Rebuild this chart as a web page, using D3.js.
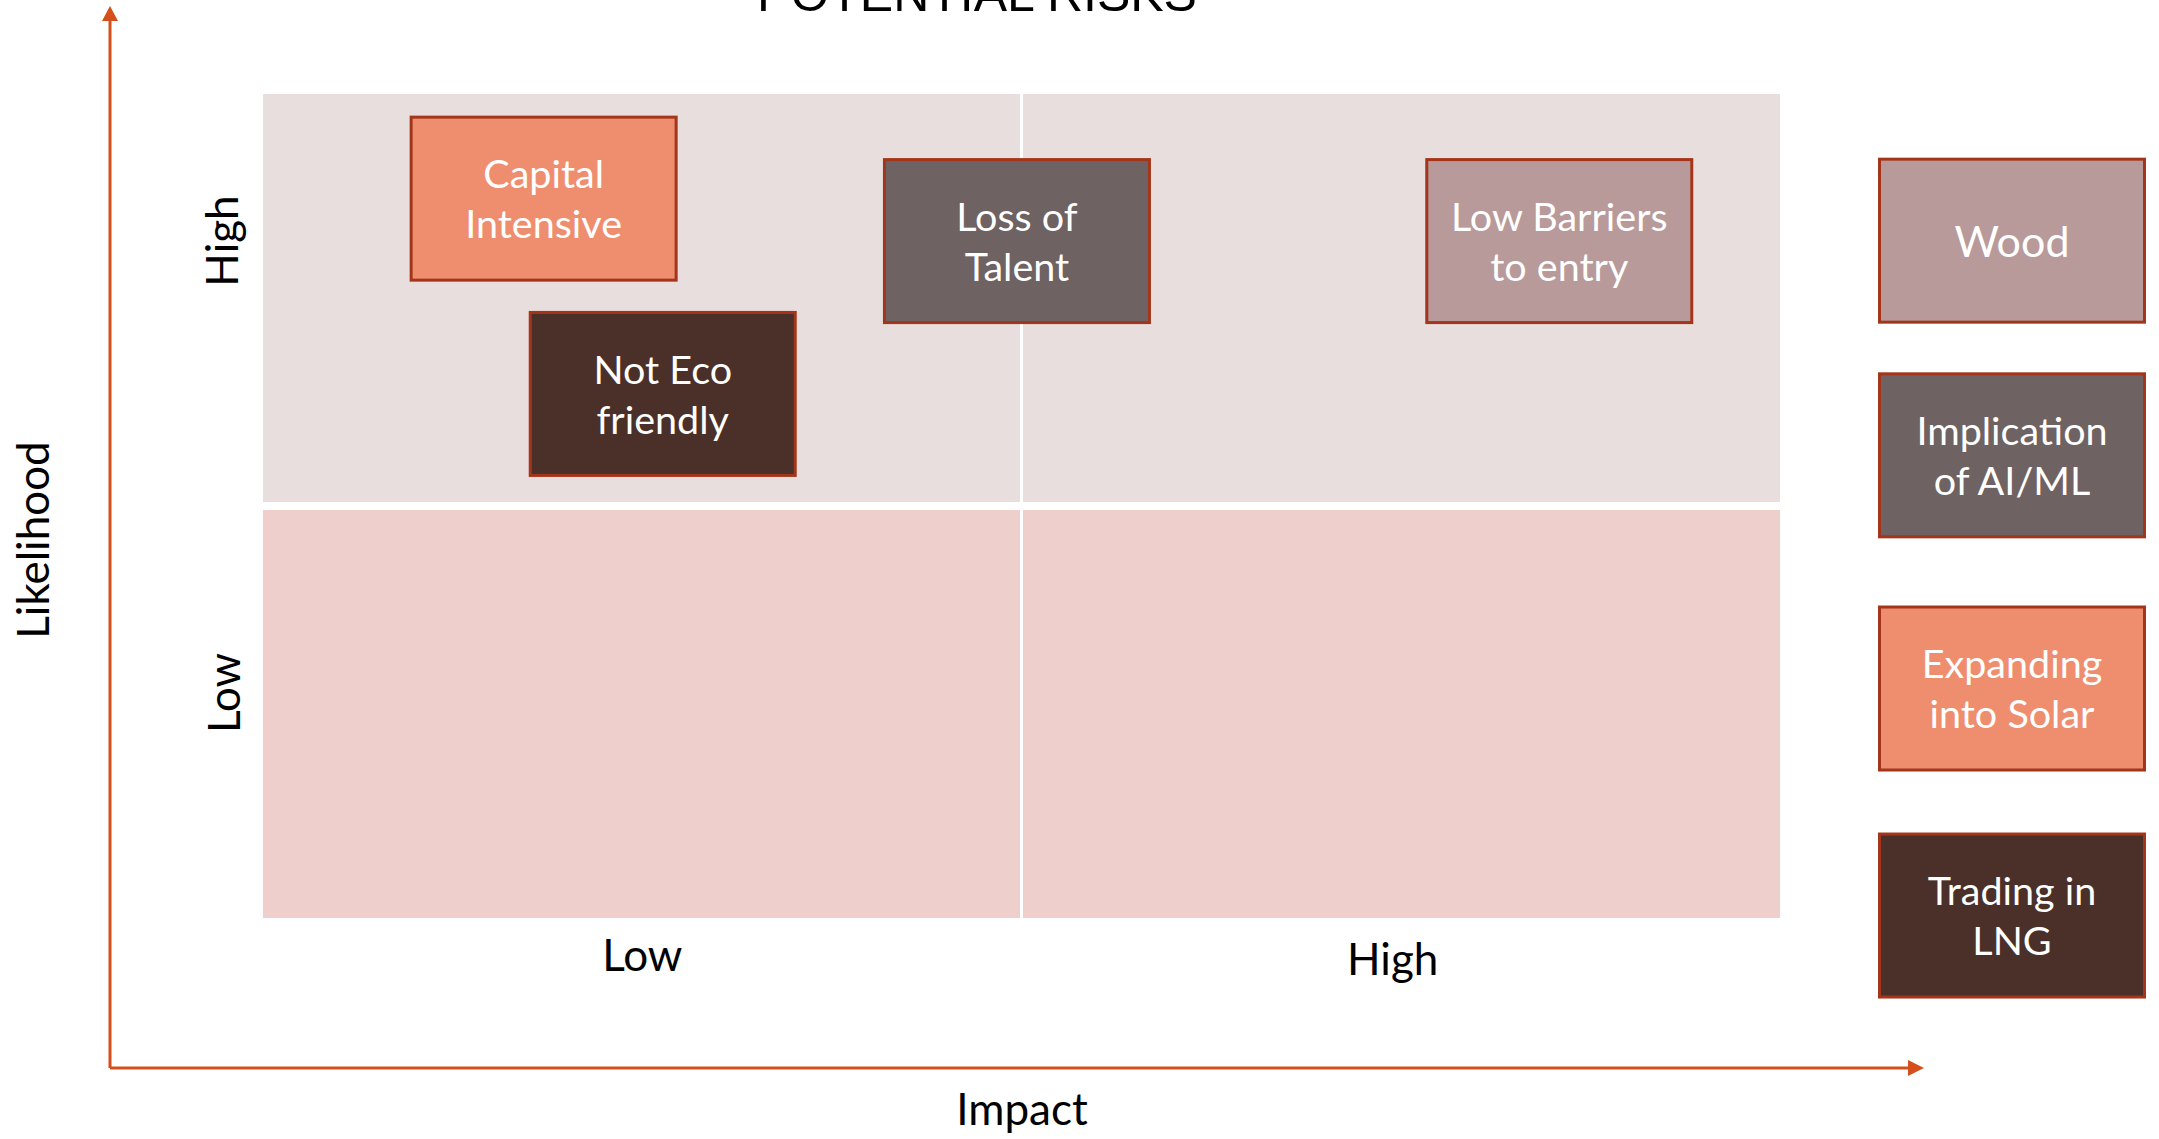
<!DOCTYPE html>
<html><head><meta charset="utf-8">
<script src="https://cdn.jsdelivr.net/npm/d3@7"></script>
<style>
html,body{margin:0;padding:0;background:#fff;}
svg{display:block;}
</style></head>
<body>
<svg id="chart" width="2159" height="1139"></svg>
<script>
// ---- data ----
const title = "POTENTIAL RISKS";
const xAxisTitle = "Impact";
const yAxisTitle = "Likelihood";
const levelLabels = ["Low", "High"];
const categories = ["Wood", "Implication of AI/ML", "Expanding into Solar", "Trading in LNG"];
const categoryColors = ["#B89A9A", "#6E6262", "#EF8E6E", "#4A3028"];
const legendLikelihood = [1.644, 1.123, 0.557, 0.006];
const riskNames = ["Capital Intensive", "Not Eco friendly", "Loss of Talent", "Low Barriers to entry"];
const riskLines = [["Capital", "Intensive"], ["Not Eco", "friendly"], ["Loss of", "Talent"], ["Low Barriers", "to entry"]];
const riskCategory = ["Expanding into Solar", "Trading in LNG", "Implication of AI/ML", "Wood"];
const riskImpact = [0.370, 0.527, 0.994, 1.709];
const riskLikelihood = [1.746, 1.272, 1.643, 1.643];
const legendLines = [["Wood"], ["Implication", "of AI/ML"], ["Expanding", "into Solar"], ["Trading in", "LNG"]];

// ---- layout ----
const svg = d3.select("#chart");
const x = d3.scaleLinear().domain([0, 2]).range([263, 1780]);
const y = d3.scaleLinear().domain([0, 2]).range([918, 94]);
const color = d3.scaleOrdinal().domain(categories).range(categoryColors);
const boxW = 265, boxH = 163;
const boxFont = "Lato, 'Open Sans', sans-serif";
const gapX = 3, gapY = 8;

// quadrants
const quads = [];
[0, 1].forEach(i => [0, 1].forEach(j => quads.push({ix: i, iy: j})));
svg.append("g").selectAll("rect").data(quads).join("rect")
  .attr("x", d => x(d.ix) + (d.ix === 1 ? gapX / 2 : 0))
  .attr("width", d => x(d.ix + 1) - x(d.ix) - gapX / 2)
  .attr("y", d => y(d.iy + 1) + (d.iy === 0 ? gapY / 2 : 0))
  .attr("height", d => y(d.iy) - y(d.iy + 1) - gapY / 2)
  .attr("fill", d => d.iy === 1 ? "#E8DEDE" : "#EECFCC");

// axes arrows
const axisColor = "#D54F1D";
const originX = 110, originY = 1068;
svg.append("line").attr("x1", originX).attr("y1", originY).attr("x2", originX).attr("y2", 20)
  .attr("stroke", axisColor).attr("stroke-width", 3);
svg.append("path").attr("d", `M${originX},6 L${originX-8},21 L${originX+8},21 Z`).attr("fill", axisColor);
svg.append("line").attr("x1", originX).attr("y1", originY).attr("x2", 1910).attr("y2", originY)
  .attr("stroke", axisColor).attr("stroke-width", 3);
svg.append("path").attr("d", `M1924,${originY} L1908,${originY-8} L1908,${originY+8} Z`).attr("fill", axisColor);

// title (cut off at top edge, as in the reference)
svg.append("text").attr("x", 977).attr("y", 11).attr("text-anchor", "middle")
  .attr("font-family", "'Liberation Sans', Arial, sans-serif").attr("font-size", 50)
  .attr("fill", "#000").text(title);

// axis titles
svg.append("text").attr("x", 1022).attr("y", 1125).attr("text-anchor", "middle")
  .attr("font-family", boxFont).attr("font-size", 44).attr("fill", "#000").text(xAxisTitle);
svg.append("text").attr("transform", "translate(49,540) rotate(-90)").attr("text-anchor", "middle")
  .attr("font-family", boxFont).attr("font-size", 44).attr("fill", "#000").text(yAxisTitle);

// level labels x
const xLabelY = [971, 975];
svg.append("g").selectAll("text").data(levelLabels).join("text")
  .attr("x", (d, i) => (x(i) + x(i + 1)) / 2 - (i === 1 ? 8 : 0))
  .attr("y", (d, i) => xLabelY[i])
  .attr("text-anchor", "middle").attr("font-family", boxFont).attr("font-size", 44)
  .attr("fill", "#000").text(d => d);
// level labels y (rotated)
const yLabelPos = [[240, 693], [238, 241]];
svg.append("g").selectAll("text").data(levelLabels).join("text")
  .attr("transform", (d, i) => `translate(${yLabelPos[i][0]},${yLabelPos[i][1]}) rotate(-90)`)
  .attr("text-anchor", "middle").attr("font-family", boxFont).attr("font-size", 44)
  .attr("fill", "#000").text(d => d);

function drawBox(g, cx, cy, fill, lines) {
  g.append("rect").attr("x", cx - boxW / 2).attr("y", cy - boxH / 2)
    .attr("width", boxW).attr("height", boxH)
    .attr("fill", fill).attr("stroke", "#A3361A").attr("stroke-width", 3);
  const lh = 50;
  const t = g.append("text").attr("text-anchor", "middle").attr("font-family", boxFont)
    .attr("font-size", lines.length === 1 ? 43 : 39.5).attr("fill", "#fff");
  lines.forEach((l, k) => {
    const off = (k - (lines.length - 1) / 2) * lh;
    t.append("tspan").attr("x", cx).attr("y", cy + off + 1).attr("dy", "0.35em").text(l);
  });
}

// risk boxes
riskNames.forEach((n, i) => {
  const g = svg.append("g").attr("class", "risk");
  drawBox(g, x(riskImpact[i]), y(riskLikelihood[i]), color(riskCategory[i]), riskLines[i]);
});

// legend boxes
categories.forEach((c, i) => {
  const g = svg.append("g").attr("class", "legend");
  drawBox(g, 2012, y(legendLikelihood[i]), color(c), legendLines[i]);
});
</script>
</body></html>
